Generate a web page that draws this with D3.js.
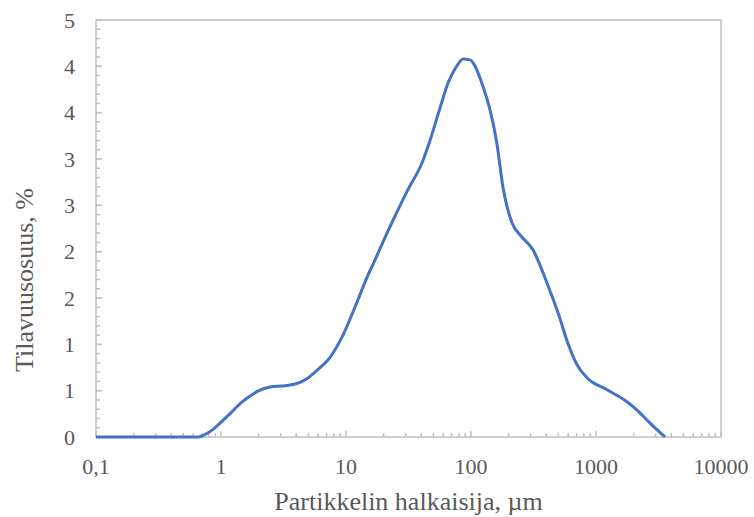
<!DOCTYPE html>
<html lang="fi">
<head>
    <meta charset="UTF-8">
    <title>Hiukkaskokojakauma</title>
    <style>
        body {
            margin: 0;
            background-color: #ffffff;
        }
        svg text {
            font-family: "Liberation Serif", "Times New Roman", serif;
            fill: #595959;
        }
    </style>
</head>
<body>
    <div id="chart"></div>

    <script src="https://d3js.org/d3.v7.min.js"></script>
    <script>
        // particle size (µm) and volume share (%)
        const sizes = [0.1, 0.2, 0.4, 0.66, 0.75, 0.86, 1.0, 1.2, 1.42, 1.7, 1.94, 2.47, 3.0, 3.37,
            4.29, 5.0, 5.86, 7.45, 9.46, 12.2, 14.7, 16.4, 22.5, 31.3, 40.6, 47.0, 56.5, 65.5,
            75.9, 86.5, 98, 125, 142, 161, 180, 213, 247, 313, 406, 497, 597, 705, 847,
            1225, 1770, 2128, 2704, 3565];
        const volumes = [0, 0, 0, 0, 0.03, 0.08, 0.16, 0.26, 0.36, 0.44, 0.49, 0.54, 0.55, 0.555,
            0.59, 0.64, 0.72, 0.86, 1.10, 1.45, 1.72, 1.86, 2.27, 2.67, 2.96, 3.20, 3.55, 3.82,
            3.99, 4.08, 4.07, 3.78, 3.53, 3.17, 2.70, 2.31, 2.18, 2.02, 1.66, 1.34, 1.01, 0.78, 0.64,
            0.51, 0.38, 0.29, 0.15, 0];

        const xTicks = [0.1, 1, 10, 100, 1000, 10000];
        const xTickLabels = ['0,1', '1', '10', '100', '1000', '10000'];
        const yTicks = [0, 0.5, 1, 1.5, 2, 2.5, 3, 3.5, 4, 4.5];
        const yTickLabels = ['0', '1', '1', '2', '2', '3', '3', '4', '4', '5'];

        const width = 754;
        const height = 517;
        const margin = { top: 20, right: 33, bottom: 80, left: 96 };
        const axisColor = '#bfbfbf';

        const svg = d3.select('#chart')
            .append('svg')
            .attr('width', width)
            .attr('height', height);

        const x = d3.scaleLog()
            .domain([0.1, 10000])
            .range([margin.left, width - margin.right]);

        const y = d3.scaleLinear()
            .domain([0, 4.5])
            .range([height - margin.bottom, margin.top]);

        const x0 = margin.left, x1 = width - margin.right;
        const y0 = height - margin.bottom, y1 = margin.top;

        // minor x ticks: 2..9 in every decade
        const xMinor = [];
        xTicks.slice(0, -1).forEach(d => {
            for (let k = 2; k <= 9; k++) xMinor.push(d * k);
        });
        const yMinor = d3.range(0, 45).map(i => i / 10);

        const grid = svg.append('g')
            .attr('stroke', axisColor)
            .attr('stroke-width', 1.5);

        grid.selectAll('.xminor')
            .data(xMinor)
            .join('line')
            .attr('x1', d => x(d)).attr('x2', d => x(d))
            .attr('y1', y0).attr('y2', y0 - 4);

        grid.selectAll('.xmajor')
            .data(xTicks)
            .join('line')
            .attr('x1', d => x(d)).attr('x2', d => x(d))
            .attr('y1', y0).attr('y2', y0 - 6);

        grid.selectAll('.yminor')
            .data(yMinor)
            .join('line')
            .attr('x1', x0).attr('x2', x0 + 4)
            .attr('y1', d => y(d)).attr('y2', d => y(d));

        grid.selectAll('.ymajor')
            .data(yTicks)
            .join('line')
            .attr('x1', x0).attr('x2', x0 + 6)
            .attr('y1', d => y(d)).attr('y2', d => y(d));

        // plot area frame
        svg.append('rect')
            .attr('x', x0)
            .attr('y', y1)
            .attr('width', x1 - x0)
            .attr('height', y0 - y1)
            .attr('fill', 'none')
            .attr('stroke', axisColor)
            .attr('stroke-width', 1.5);

        const points = sizes.map((s, i) => [s, volumes[i]]);

        const line = d3.line()
            .x(d => x(d[0]))
            .y(d => y(d[1]))
            .curve(d3.curveMonotoneX);

        svg.append('path')
            .datum(points)
            .attr('fill', 'none')
            .attr('stroke', '#4472c4')
            .attr('stroke-width', 3)
            .attr('stroke-linejoin', 'round')
            .attr('d', line);

        svg.append('g')
            .selectAll('text')
            .data(xTicks)
            .join('text')
            .attr('x', d => x(d))
            .attr('y', y0 + 37)
            .attr('text-anchor', 'middle')
            .attr('font-size', 22)
            .text((d, i) => xTickLabels[i]);

        svg.append('g')
            .selectAll('text')
            .data(yTicks)
            .join('text')
            .attr('x', 75)
            .attr('y', d => y(d) + 7.5)
            .attr('text-anchor', 'end')
            .attr('font-size', 22)
            .text((d, i) => yTickLabels[i]);

        svg.append('text')
            .attr('x', (x0 + x1) / 2)
            .attr('y', 510)
            .attr('text-anchor', 'middle')
            .attr('font-size', 26)
            .text('Partikkelin halkaisija, µm');

        svg.append('text')
            .attr('transform', 'translate(33,280) rotate(-90)')
            .attr('text-anchor', 'middle')
            .attr('font-size', 26)
            .text('Tilavuusosuus, %');
    </script>
</body>
</html>
